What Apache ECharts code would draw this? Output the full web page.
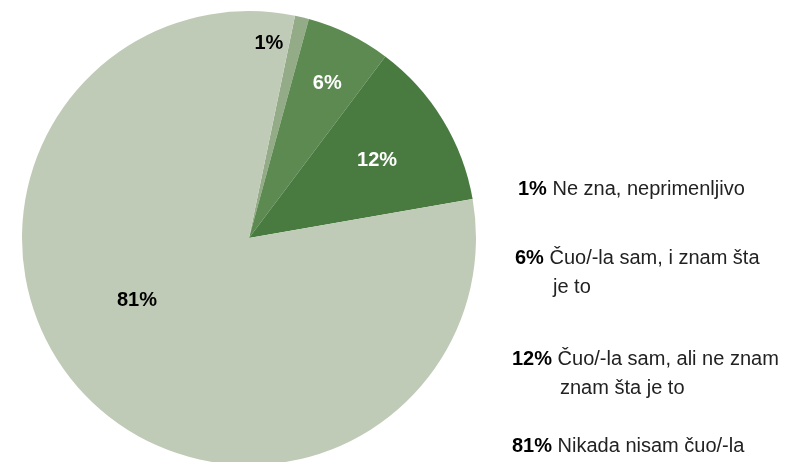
<!DOCTYPE html>
<html><head><meta charset="utf-8">
<script src="https://cdn.jsdelivr.net/npm/echarts@6/dist/echarts.min.js"></script>
<style>html,body{margin:0;padding:0;background:#fff}#c{width:785px;height:462px}</style>
</head><body><div id="c"></div>
<script>
const categories = ['Ne zna, neprimenljivo', 'Čuo/-la sam, i znam šta\nje to', 'Čuo/-la sam, ali ne znam\nznam šta je to', 'Nikada nisam čuo/-la'];
const values = [1, 6, 12, 81];
const colors = ['#94ab88', '#5c8a50', '#497b41', '#c0cbb7'];
const labelColors = ['#000', '#fff', '#fff', '#000'];
// label placement: [radius fraction, angle clockwise from 12 o'clock]
const labelPolar = [[0.868, 5.8], [0.77, 26.6], [0.664, 58.2], [0.56, 241.8]];
const legendTops = [175, 244, 345, 432];
const legendLefts = [513, 510, 507, 507];
const legendIndent = [0, 38, 48, 0];

const cx = 249, cy = 238, R = 227;
const chart = echarts.init(document.getElementById('c'), null, {renderer: 'canvas'});
const font = 'Liberation Sans, Arial, Helvetica, sans-serif';

const legends = categories.map((name, i) => ({
  data: [name],
  orient: 'vertical',
  left: legendLefts[i],
  top: legendTops[i],
  padding: 0,
  icon: 'none',
  itemWidth: 0,
  itemHeight: 0,
  selectedMode: false,
  formatter: (n) => {
    const lines = n.split('\n');
    let s = '{p|' + values[i] + '%}{t| ' + lines[0] + '}';
    for (let k = 1; k < lines.length; k++) s += '\n{i|' + lines[k] + '}';
    return s;
  },
  textStyle: {
    fontFamily: font,
    fontSize: 20,
    lineHeight: 29,
    color: '#111',
    rich: {
      p: {fontWeight: 'bold', fontSize: 20, lineHeight: 29, color: '#000', fontFamily: font},
      t: {fontSize: 20, lineHeight: 29, color: '#222', fontFamily: font},
      i: {fontSize: 20, lineHeight: 29, color: '#222', fontFamily: font, padding: [0, 0, 0, legendIndent[i]]}
    }
  }
}));

chart.setOption({
  animation: false,
  legend: legends,
  series: [{
    type: 'pie',
    center: [cx, cy],
    radius: R,
    startAngle: 78.3,
    clockwise: true,
    avoidLabelOverlap: false,
    label: {
      show: true,
      position: 'inside',
      formatter: '{c}%',
      fontFamily: font,
      fontWeight: 'bold',
      fontSize: 20
    },
    labelLine: {show: false},
    labelLayout: (p) => {
      const lp = labelPolar[p.dataIndex];
      const a = lp[1] * Math.PI / 180;
      return {x: cx + lp[0] * R * Math.sin(a), y: cy - lp[0] * R * Math.cos(a) + 2, align: 'center', verticalAlign: 'middle'};
    },
    emphasis: {disabled: true},
    data: categories.map((n, i) => ({
      name: n, value: values[i],
      itemStyle: {color: colors[i]},
      label: {color: labelColors[i]}
    }))
  }]
});
</script></body></html>
